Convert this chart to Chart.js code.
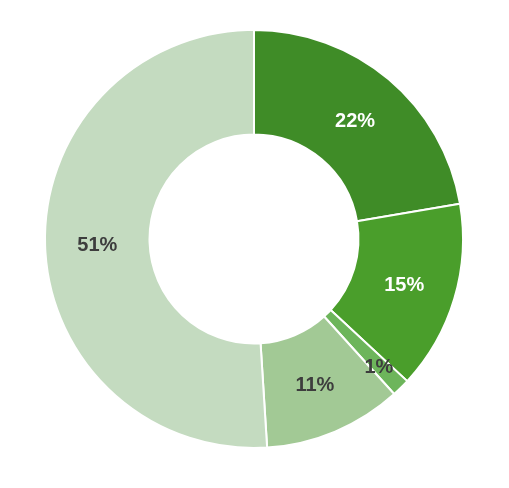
<!DOCTYPE html>
<html>
<head>
<meta charset="utf-8">
<script src="https://cdn.jsdelivr.net/npm/chart.js@4"></script>
<style>
  html, body { margin: 0; padding: 0; background: #fff; }
  #wrap { width: 509px; height: 488px; }
</style>
</head>
<body>
<div id="wrap"><canvas id="chart1"></canvas></div>
<script>
const labels = ["A", "B", "C", "D", "E"];
const values = [22.3, 14.6, 1.4, 10.7, 51.0];
const colors = ["#3f8c27", "#4a9e2b", "#6db55b", "#a2c995", "#c4dbc0"];
const textColors = ["#ffffff", "#ffffff", "#3d3d3d", "#3d3d3d", "#3d3d3d"];

Chart.defaults.font.family = "'Liberation Sans', Arial, sans-serif";

// draws the percent text in the middle of each slice
const sliceLabels = {
    id: 'sliceLabels',
    afterDatasetsDraw(chart, args, opts) {
        const ctx = chart.ctx;
        const meta = chart.getDatasetMeta(0);
        const total = values.reduce((a, b) => a + b, 0);
        ctx.save();
        ctx.font = "bold 20px 'Liberation Sans', Arial, sans-serif";
        ctx.textAlign = 'center';
        ctx.textBaseline = 'middle';
        meta.data.forEach((arc, i) => {
            const mid = (arc.startAngle + arc.endAngle) / 2;
            // tiny slices get their label pushed outwards a bit
            const r = (arc.innerRadius + arc.outerRadius) / 2 + (values[i] / total < 0.03 ? opts.smallShift : 0);
            const x = arc.x + Math.cos(mid) * r;
            const y = arc.y + Math.sin(mid) * r + 2;
            ctx.fillStyle = textColors[i];
            ctx.fillText(Math.round(values[i] / total * 100) + '%', x, y);
        });
        ctx.restore();
    }
};

const ctx = document.getElementById("chart1").getContext("2d");

const newChart = new Chart(ctx, {
    type: 'doughnut',
    data: {
        labels,
        datasets: [{
            data: values,
            backgroundColor: colors,
            borderColor: '#ffffff',
            borderWidth: 2,
        }]
    },
    options: {
        responsive: true,
        maintainAspectRatio: false,
        animation: false,
        cutout: '50%',
        layout: {
            padding: { top: 29, bottom: 39, left: 0, right: 1 }
        },
        plugins: {
            legend: { display: false },
            tooltip: { enabled: false },
            sliceLabels: { smallShift: 21 }
        }
    },
    plugins: [sliceLabels]
});
</script>
</body>
</html>
